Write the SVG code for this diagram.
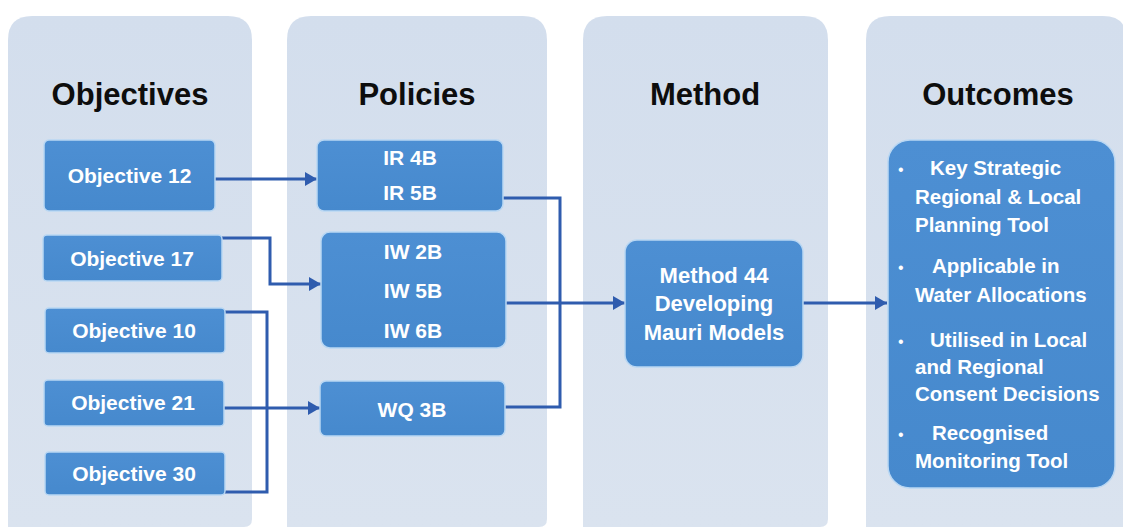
<svg xmlns="http://www.w3.org/2000/svg" width="1123" height="531" viewBox="0 0 1123 531">
  <defs>
    <linearGradient id="panelGrad" x1="0" y1="0" x2="0" y2="1">
      <stop offset="0" stop-color="#d3deed"/>
      <stop offset="1" stop-color="#dae3ef"/>
    </linearGradient>
    <linearGradient id="boxGrad" x1="0" y1="0" x2="0" y2="1">
      <stop offset="0" stop-color="#4d8fd3"/>
      <stop offset="1" stop-color="#4689cd"/>
    </linearGradient>
    <marker id="arrow" markerWidth="12" markerHeight="14" refX="12" refY="7" orient="auto" markerUnits="userSpaceOnUse">
      <path d="M0,0 L12,7 L0,14 Z" fill="#2f5cae"/>
    </marker>
  </defs>
  <style>
    .panel { fill: url(#panelGrad); }
    .box { fill: url(#boxGrad); stroke: #b9d7f3; stroke-width: 1.5; }
    .head { font-family: "Liberation Sans", Arial, sans-serif; font-weight: bold; font-size: 31px; fill: #0d0d0d; text-anchor: middle; }
    .lbl { font-family: "Liberation Sans", Arial, sans-serif; font-weight: bold; font-size: 21px; fill: #ffffff; text-anchor: middle; }
    .out { font-family: "Liberation Sans", Arial, sans-serif; font-weight: bold; font-size: 20.5px; fill: #ffffff; }
    .bul { font-family: "Liberation Sans", Arial, sans-serif; font-size: 16px; fill: #ffffff; }
    .conn { fill: none; stroke: #2f5cae; stroke-width: 3; }
  </style>
  <rect width="1123" height="531" fill="#ffffff"/>

  <g id="panel-objectives">
    <path class="panel" d="M8,527 L8,40 Q8,16 32,16 L228,16 Q252,16 252,40 L252,519 Q252,527 244,527 Z"/>
    <text class="head" x="130" y="105">Objectives</text>
  </g>
  <g id="panel-policies">
    <path class="panel" d="M287,527 L287,40 Q287,16 311,16 L523,16 Q547,16 547,40 L547,519 Q547,527 539,527 Z"/>
    <text class="head" x="417" y="105">Policies</text>
  </g>
  <g id="panel-method">
    <path class="panel" d="M583,527 L583,40 Q583,16 607,16 L804,16 Q828,16 828,40 L828,519 Q828,527 820,527 Z"/>
    <text class="head" x="705" y="105">Method</text>
  </g>
  <g id="panel-outcomes">
    <path class="panel" d="M866,527 L866,40 Q866,16 890,16 L1103,16 Q1127,16 1127,40 L1127,527 Z"/>
    <text class="head" x="998" y="105">Outcomes</text>
  </g>

  <g id="connectors">
    <path class="conn" d="M215,179 L317,179" marker-end="url(#arrow)"/>
    <path class="conn" d="M222,238 L270,238 L270,284 L321,284" marker-end="url(#arrow)"/>
    <path class="conn" d="M225,312 L267,312 L267,492 L225,492"/>
    <path class="conn" d="M224,408 L320,408" marker-end="url(#arrow)"/>
    <path class="conn" d="M503,198 L560,198 L560,407 L505,407"/>
    <path class="conn" d="M506,303 L625,303" marker-end="url(#arrow)"/>
    <path class="conn" d="M803,303 L887,303" marker-end="url(#arrow)"/>
  </g>

  <g id="obj12">
    <rect class="box" x="44" y="140" width="171" height="71" rx="5"/>
    <text class="lbl" x="129.5" y="183">Objective 12</text>
  </g>
  <g id="obj17">
    <rect class="box" x="43" y="235" width="179" height="46" rx="4"/>
    <text class="lbl" x="132" y="265.5">Objective 17</text>
  </g>
  <g id="obj10">
    <rect class="box" x="45" y="308" width="180" height="45" rx="4"/>
    <text class="lbl" x="134" y="338">Objective 10</text>
  </g>
  <g id="obj21">
    <rect class="box" x="44" y="380" width="180" height="46" rx="4"/>
    <text class="lbl" x="133" y="409.5">Objective 21</text>
  </g>
  <g id="obj30">
    <rect class="box" x="45" y="452" width="180" height="43" rx="4"/>
    <text class="lbl" x="134" y="481">Objective 30</text>
  </g>

  <g id="pol-ir">
    <rect class="box" x="317" y="140" width="186" height="71" rx="7"/>
    <text class="lbl" x="410" y="165">IR 4B</text>
    <text class="lbl" x="410" y="200">IR 5B</text>
  </g>
  <g id="pol-iw">
    <rect class="box" x="321" y="232" width="185" height="116" rx="9"/>
    <text class="lbl" x="413" y="259">IW 2B</text>
    <text class="lbl" x="413" y="298">IW 5B</text>
    <text class="lbl" x="413" y="338">IW 6B</text>
  </g>
  <g id="pol-wq">
    <rect class="box" x="320" y="381" width="185" height="55" rx="6"/>
    <text class="lbl" x="412" y="417">WQ 3B</text>
  </g>

  <g id="method44">
    <rect class="box" x="625" y="240" width="178" height="127" rx="12"/>
    <text class="lbl" x="714" y="283" style="font-size:22px">Method 44</text>
    <text class="lbl" x="714" y="311" style="font-size:22px">Developing</text>
    <text class="lbl" x="714" y="340" style="font-size:22px">Mauri Models</text>
  </g>

  <g id="outcomes">
    <rect class="box" x="888" y="140" width="227" height="348" rx="22"/>
    <text class="bul" x="898" y="175">•</text>
    <text class="out" x="930" y="175">Key Strategic</text>
    <text class="out" x="915" y="204">Regional &amp; Local</text>
    <text class="out" x="915" y="232">Planning Tool</text>
    <text class="bul" x="898" y="273">•</text>
    <text class="out" x="932" y="273">Applicable in</text>
    <text class="out" x="915" y="302">Water Allocations</text>
    <text class="bul" x="898" y="347">•</text>
    <text class="out" x="930" y="347">Utilised in Local</text>
    <text class="out" x="915" y="374">and Regional</text>
    <text class="out" x="915" y="401">Consent Decisions</text>
    <text class="bul" x="898" y="440">•</text>
    <text class="out" x="932" y="440">Recognised</text>
    <text class="out" x="915" y="468">Monitoring Tool</text>
  </g>
</svg>
